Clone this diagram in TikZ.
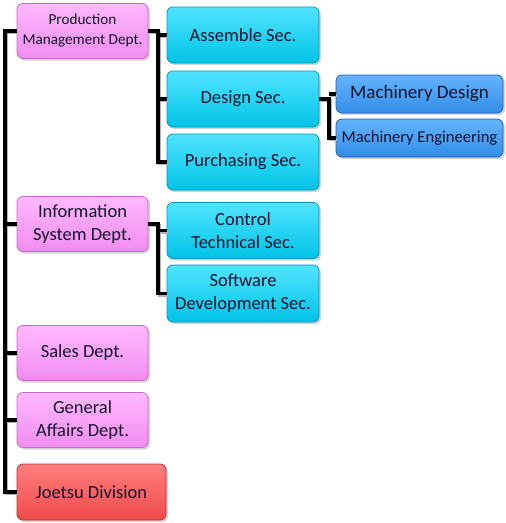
\documentclass[tikz,border=0pt]{standalone}
\usepackage{fontspec}
\setmainfont{Carlito}
\usetikzlibrary{shadows}
\definecolor{pinkA}{RGB}{255,185,255}
\definecolor{pinkB}{RGB}{250,155,250}
\definecolor{pinkC}{RGB}{240,140,240}
\definecolor{pinkD}{RGB}{200,105,200}
\definecolor{cyanA}{RGB}{80,228,255}
\definecolor{cyanB}{RGB}{0,210,245}
\definecolor{cyanC}{RGB}{0,195,230}
\definecolor{cyanD}{RGB}{0,150,195}
\definecolor{blueA}{RGB}{100,180,255}
\definecolor{blueB}{RGB}{60,152,242}
\definecolor{blueC}{RGB}{50,140,230}
\definecolor{blueD}{RGB}{30,95,185}
\definecolor{redA}{RGB}{255,125,125}
\definecolor{redB}{RGB}{252,88,88}
\definecolor{redC}{RGB}{240,75,75}
\definecolor{redD}{RGB}{195,45,45}
\definecolor{txt}{RGB}{20,20,45}
\tikzset{
  box/.style={rounded corners=6pt, line width=0.8pt, align=center, text=txt,
    inner sep=1pt, drop shadow={shadow xshift=2pt, shadow yshift=-2pt, opacity=0.35}},
  dept/.style={box, draw=pinkD, top color=pinkA, middle color=pinkB, bottom color=pinkC,
    minimum width=131pt, minimum height=55pt, font=\fontsize{18.5}{23}\selectfont},
  sect/.style={box, draw=cyanD, top color=cyanA, middle color=cyanB, bottom color=cyanC,
    minimum width=152pt, minimum height=56pt, font=\fontsize{18.5}{23}\selectfont},
  mach/.style={box, draw=blueD, top color=blueA, middle color=blueB, bottom color=blueC,
    minimum width=167pt, minimum height=38pt},
  divi/.style={box, draw=redD, top color=redA, middle color=redB, bottom color=redC,
    minimum width=149pt, minimum height=56pt, font=\fontsize{18.5}{23}\selectfont},
  link/.style={line width=3.5pt, black, line join=miter,
    preaction={draw=black!30, line width=3.5pt, transform canvas={shift={(1.5pt,-1.5pt)}}}}
}
\begin{document}
\begin{tikzpicture}[x=1pt,y=-1pt]
\useasboundingbox (0,0) rectangle (506,523);
\coordinate (bus) at (5,0);
\coordinate (b1) at (158,0);
\coordinate (b2) at (329,0);
% nodes
\node[dept, font=\fontsize{15.2}{20}\selectfont] (prod) at (82.5,31) {Production\\Management Dept.};
\node[sect] (asm) at (243,35) {Assemble Sec.};
\node[sect] (des) at (243,99) {Design Sec.};
\node[sect] (pur) at (243,162) {Purchasing Sec.};
\node[mach, font=\fontsize{19}{22}\selectfont] (md) at (419.5,94) {Machinery Design};
\node[mach, font=\fontsize{16.6}{20}\selectfont] (me) at (419.5,138) {Machinery Engineering};
\node[dept] (info) at (82.5,224) {Information\\System Dept.};
\node[sect] (ctl) at (243,230.5) {Control\\Technical Sec.};
\node[sect, minimum height=57pt] (sw) at (243,293.5) {Software\\Development Sec.};
\node[dept] (sales) at (82.5,353) {Sales Dept.};
\node[dept] (gen) at (82.5,420) {General\\Affairs Dept.};
\node[divi] (joe) at (91.5,492) {Joetsu Division};
% connectors
\draw[link] (prod.west) -- (prod.west -| bus) -- (joe.west -| bus) -- (joe.west);
\draw[link] (info.west -| bus) -- (info.west);
\draw[link] (sales.west -| bus) -- (sales.west);
\draw[link] (gen.west -| bus) -- (gen.west);
\draw[link] (prod.east) -- (prod.east -| b1) -- (pur.west -| b1) -- (pur.west);
\draw[link] (asm.west -| b1) -- (asm.west);
\draw[link] (des.west -| b1) -- (des.west);
\draw[link] (des.east) -- (des.east -| b2) -- (me.west -| b2) -- (me.west);
\draw[link] (md.west -| b2) -- (md.west);
\draw[link] (info.east) -- (info.east -| b1) -- (sw.west -| b1) -- (sw.west);
\draw[link] (ctl.west -| b1) -- (ctl.west);
\end{tikzpicture}
\end{document}
